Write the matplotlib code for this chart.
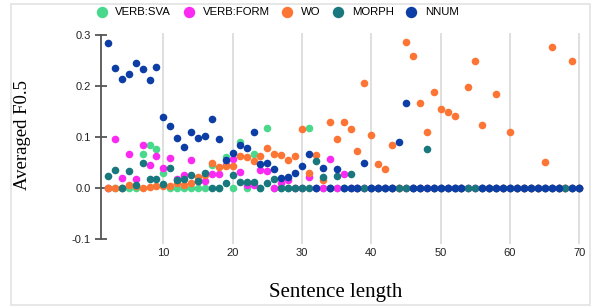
import numpy as np
import matplotlib
matplotlib.use("Agg")
import matplotlib.pyplot as plt
from matplotlib.patches import Rectangle

# sentence lengths 2..70
lengths = list(range(2, 71))

nan = np.nan
# values, one per sentence length (2..70)
verb_sva = [0, 0, 0, 0, 0, 0.067, 0.084, 0.076, 0.029, 0, 0, 0, 0, 0, 0,
            0.045, 0, 0.061, 0, 0.090, 0, 0.066, 0, 0.118, 0, 0, 0, 0, 0,
            0.118] + [0] * 39
verb_form = [0, 0.096, 0.019, 0.067, 0.017, 0.084, 0.045, 0.063, 0.040, 0.058,
             0.018, 0.025, 0.055, 0.013, 0.013, 0.027, 0.027, 0.045, 0.056,
             0.032, 0.006, 0.005, 0.035, 0.033, 0, 0.009, 0.016, 0, 0, 0.022,
             0, 0, 0.056, 0, 0.027] + [0] * 34
wo = [0, 0, 0, 0.006, 0.003, 0, 0.002, 0.003, 0.003, 0.003, 0.010, 0.006,
      0.010, 0.022, 0.026, 0.050, 0.042, 0.044, 0.044, 0.062, 0.060, 0.052,
      0.063, 0.078, 0.067, 0.065, 0.054, 0.063, 0.115, 0.030, 0.065, 0.016,
      0.130, 0.097, 0.129, 0.115, 0.073, 0.206, 0.104, 0.047, 0.038, 0.084,
      0, 0.286, 0.259, 0.166, 0.110, 0.188, 0.155, 0.150, 0.141, 0, 0.199,
      0.250, 0.124, 0, 0.184, 0, 0.110, 0, 0, 0, 0, 0.051, 0.277, 0, 0,
      0.250, 0]
morph = [0.024, 0.035, 0, 0.033, 0.005, 0.050, 0.018, 0.018, 0.007, 0.040,
         0.015, 0.017, 0.026, 0.013, 0.029, 0, 0, 0.010, 0.025, 0.011, 0.012,
         0.012, 0, 0.010, 0.017, 0, 0, 0, 0, 0, 0.052, 0.022, 0, 0.023, 0,
         0.027, 0, 0, 0, 0, 0, 0, 0, 0, 0, 0, 0.076] + [0] * 22
nnum = [0.285, 0.235, 0.213, 0.223, 0.246, 0.233, 0.212, 0.238, 0.140, 0.122,
        0.098, 0.081, 0.110, 0.099, 0.103, 0.135, 0.097, 0.054, 0.069, 0.084,
        0.078, 0.110, 0.048, 0.050, 0.037, 0.019, 0.022, 0.029, 0.044, 0.066,
        0, 0.039, 0, 0.038, 0, 0, 0, 0.049, 0, 0, 0, 0, 0.090, 0.166,
        0, 0, 0, 0, 0, 0, 0, 0, nan, nan, 0, 0, 0, 0, 0, 0, 0, 0, 0, 0, 0,
        0, nan, 0, 0]

series = [
    ("VERB:SVA", verb_sva, "#4ad98c"),
    ("VERB:FORM", verb_form, "#fb2af2"),
    ("WO", wo, "#fd7535"),
    ("MORPH", morph, "#19787d"),
    ("NNUM", nnum, "#0c3ea5"),
]

fig = plt.figure(figsize=(5.94, 3.07), dpi=100)
ax = fig.add_axes([0.170, 0.205, 0.817, 0.689])

for name, vals, col in series:
    ax.scatter(lengths, vals, s=30, color=col, label=name, linewidths=0, zorder=3)

ax.set_xlim(1, 71)
ax.set_ylim(-0.11, 0.305)
ax.set_xticks([10, 20, 30, 40, 50, 60, 70])
ax.set_yticks([-0.1, 0.0, 0.1, 0.2, 0.3])
ax.set_yticklabels(["-0.1", "0.0", "0.1", "0.2", "0.3"])
ax.grid(axis="x", color="#d9d9d9", linewidth=1.2, zorder=0)

for s in ["top", "right", "bottom"]:
    ax.spines[s].set_visible(False)
ax.spines["left"].set_bounds(-0.1, 0.3)
ax.spines["left"].set_color("#555555")
ax.spines["left"].set_linewidth(1.3)
ax.tick_params(axis="y", direction="inout", length=9, width=1.3, color="#555555",
               labelsize=8, pad=3)
ax.tick_params(axis="x", length=0, labelsize=8, pad=3)
for lab in ax.get_xticklabels() + ax.get_yticklabels():
    lab.set_fontfamily("Liberation Sans")
    lab.set_color("#222222")

fig.text(0.038, 0.56, "Averaged F0.5", family="Liberation Serif", fontsize=13.5,
         rotation=90, ha="center", va="center")
fig.text(0.565, 0.046, "Sentence length", family="Liberation Serif", fontsize=15,
         ha="center", va="center")

leg = fig.legend(loc="center", bbox_to_anchor=(0.462, 0.96), ncol=5, frameon=False,
                 prop={"family": "Liberation Sans", "size": 8.2}, handletextpad=0.2,
                 columnspacing=0.55, markerscale=1.5)

# light frame around the whole picture
fig.patches.append(Rectangle((0.018, 0.008), 0.975, 0.978, transform=fig.transFigure,
                             fill=False, edgecolor="#e3e3e3", linewidth=1.2))

fig.savefig("out.png", dpi=100)
